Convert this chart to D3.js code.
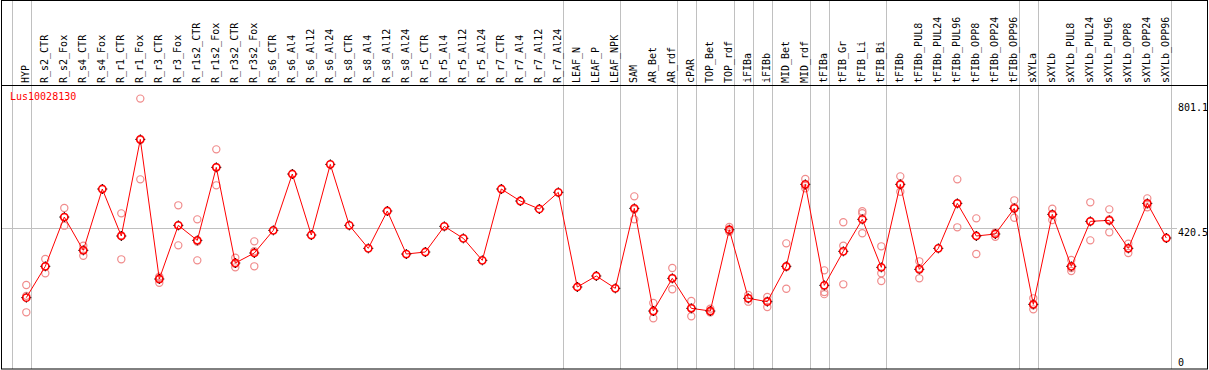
<!DOCTYPE html>
<html>
<head>
<meta charset="utf-8">
<script src="https://cdn.jsdelivr.net/npm/d3@7"></script>
<style>
  body { margin: 0; background: #fff; }
  text { font-family: "DejaVu Sans Mono", monospace; font-size: 10px; }
</style>
</head>
<body>
<script>
// samples, left to right
const categories = ["HYP","R_s2_CTR","R_s2_Fox","R_s4_CTR","R_s4_Fox","R_r1_CTR","R_r1_Fox","R_r3_CTR","R_r3_Fox",
  "R_r1s2_CTR","R_r1s2_Fox","R_r3s2_CTR","R_r3s2_Fox","R_s6_CTR","R_s6_Al4","R_s6_Al12","R_s6_Al24",
  "R_s8_CTR","R_s8_Al4","R_s8_Al12","R_s8_Al24","R_r5_CTR","R_r5_Al4","R_r5_Al12","R_r5_Al24",
  "R_r7_CTR","R_r7_Al4","R_r7_Al12","R_r7_Al24","LEAF_N","LEAF_P","LEAF_NPK","SAM","AR_Bet","AR_rdf",
  "cPAR","TOP_Bet","TOP_rdf","iFIBa","iFIBb","MID_Bet","MID_rdf","tFIBa","tFIB_Gr","tFIB_Li","tFIB_Bi",
  "tFIBb","tFIBb_PUL8","tFIBb_PUL24","tFIBb_PUL96","tFIBb_OPP8","tFIBb_OPP24","tFIBb_OPP96",
  "sXYLa","sXYLb","sXYLb_PUL8","sXYLb_PUL24","sXYLb_PUL96","sXYLb_OPP8","sXYLb_OPP24","sXYLb_OPP96"];

// number of samples in each group (grey separators between groups)
const groupSizes = [1, 28, 3, 3, 1, 2, 1, 1, 2, 1, 3, 7, 1, 7];

// mean expression per sample
const means = [215.7,307.8,452.8,354.8,535.2,397,681.2,270.5,428.3,
  384.2,598.9,317.6,347,413.6,579.3,399.9,607.7,
  428.3,360.7,470.5,344,349.9,425.4,390.1,325.4,
  535.2,499.9,476.4,525.4,247,279.4,243.1,478.3,176.4,272.5,
  184.3,176.4,415.6,213.7,203.9,307.8,548.9,251.9,351.9,446,304.8,
  548.9,298.9,360.7,493,397,402.9,478.3,
  196,460.7,307.8,440.1,443,360.7,493,391.1];

// replicate values per sample (empty where none are shown)
const replicates = [
  [252.9,221,172.5],[329.3,307,287.2],[479.3,452,427.4],[368.6,357,339.1],[],
  [463.6,399,328.4],[801.1,679,563.6],[277.4,274,259.7],[487.2,428,369.5],
  [446,381,325.4],[651.8,599,546],[333.3,315,304.8],[381.3,352,307.8],
  [],[],[],[],[],[],[],[],[],[],[],[],[],[],[],[],
  [],[],[],
  [513.6,475,446],[200,174,154.9],[302.9,274,240.2],
  [205.8,186,160.8],[183.3,173,172.5],[423.4,414,409.7],
  [223.5,214,203.9],[217.6,206,188.2],
  [375.4,306,242.1],[564.6,545,537.1],
  [296,232,226],
  [437.3,368.6,254.9],[470,464,405],[366.6,287.2,264.7],
  [572.4,547,527.3],[322.5,302,272.5],[],[563.6,493,422.5],[448.9,398,344],[395,407,406.8],[501.9,482,450.9],
  [213.7,193,181.3],
  [477.4,461,444],[326.4,303,294.1],[496,440,384.2],[475.4,446,407.8],[374.4,361,347],[507.7,490,481.3],[]
];

const yTickValues = [801.1, 420.5, 0];
const yMax = 841.1;
const title = "Lus10028130";

const width = 1209, height = 370;
const svg = d3.select("body").append("svg")
  .attr("width", width).attr("height", height);

const x = d3.scaleBand().domain(categories).range([11.7, 1170.7]).padding(0);
const y = d3.scaleLinear().domain([0, yMax]).range([371, 85]);
const cx = d => x(d) + 14.6;

// group separators
const edges = [0];
groupSizes.reduce((acc, n) => { edges.push(acc + n); return acc + n; }, 0);
svg.append("g").selectAll("line").data(edges).join("line")
  .attr("x1", i => Math.round(i < categories.length ? x(categories[i]) : x(categories[i - 1]) + x.bandwidth()) + 0.5)
  .attr("x2", i => Math.round(i < categories.length ? x(categories[i]) : x(categories[i - 1]) + x.bandwidth()) + 0.5)
  .attr("y1", 0).attr("y2", 369)
  .attr("stroke", "#c0c0c0").attr("stroke-width", 1);

// midline
svg.append("line")
  .attr("x1", 1).attr("x2", 1177)
  .attr("y1", Math.round(y(420.5)) + 0.5).attr("y2", Math.round(y(420.5)) + 0.5)
  .attr("stroke", "#c0c0c0");

// frame + header rule
svg.append("rect").attr("x", 1.5).attr("y", 0.5).attr("width", 1206).attr("height", 368.5)
  .attr("fill", "none").attr("stroke", "#000");
svg.append("line").attr("x1", 1).attr("x2", 1208).attr("y1", 85.5).attr("y2", 85.5).attr("stroke", "#000");

// sample labels
svg.append("g").selectAll("text").data(categories).join("text")
  .attr("transform", d => `translate(${cx(d) + 3},83) rotate(-90)`)
  .attr("fill", "#000")
  .text(d => d);

// title
svg.append("text").attr("x", 10).attr("y", 100).attr("fill", "#ff0000").text(title);

// y labels
svg.append("g").selectAll("text").data(yTickValues).join("text")
  .attr("x", 1178)
  .attr("y", d => d === 0 ? y(0) - 5 : (d === yTickValues[0] ? y(d) + 12 : y(d) + 8))
  .attr("fill", "#000")
  .text(d => d);

// replicate points
const repPts = [];
replicates.forEach((arr, i) => arr.forEach(v => repPts.push({c: categories[i], v})));
svg.append("g").selectAll("circle").data(repPts).join("circle")
  .attr("cx", d => cx(d.c)).attr("cy", d => y(d.v)).attr("r", 3.6)
  .attr("fill", "none").attr("stroke", "#f08c8c").attr("stroke-width", 1.2);

// mean line
const line = d3.line().x((d, i) => cx(categories[i])).y(d => y(d));
svg.append("path").datum(means).attr("d", line)
  .attr("fill", "none").attr("stroke", "#ff0000").attr("stroke-width", 1);

// mean points
const mg = svg.append("g").selectAll("g").data(means).join("g")
  .attr("transform", (d, i) => `translate(${cx(categories[i])},${y(d)})`);
mg.append("circle").attr("r", 3.6).attr("fill", "none").attr("stroke", "#ff0000").attr("stroke-width", 1.6);
mg.append("path").attr("d", "M0,-5V-4M0,4V5M-5,0H-4M4,0H5")
  .attr("stroke", "#000").attr("stroke-width", 1);
</script>
</body>
</html>
